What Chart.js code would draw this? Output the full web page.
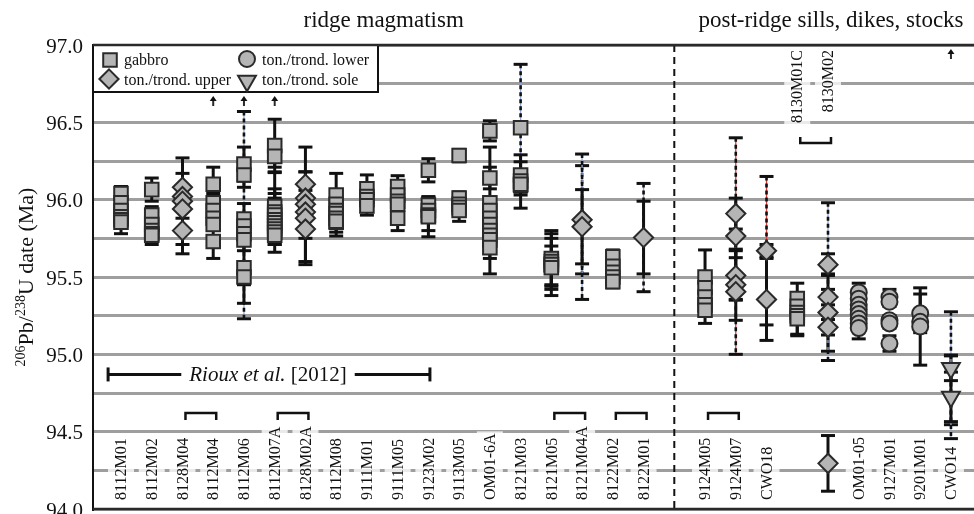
<!DOCTYPE html>
<html>
<head>
<meta charset="utf-8">
<script src="https://cdn.jsdelivr.net/npm/chart.js@4.4.1/dist/chart.umd.min.js"></script>
<style>
  html, body { margin: 0; padding: 0; background: #fff; }
  #wrap { width: 974px; height: 514px; }
</style>
</head>
<body>
<div id="wrap"><canvas id="chartDates" width="974" height="514"></canvas></div>
<script>
// sample names along the x axis (null = gap where the divider sits)
const samples = ['8112M01', '8112M02', '8128M04', '8112M04', '8112M06', '8112M07A', '8128M02A',
    '8112M08', '9111M01', '9111M05', '9123M02', '9113M05', 'OM01-6A', '8121M03', '8121M05',
    '8121M04A', '8122M02', '8122M01', null, '9124M05', '9124M07', 'CWO18', '8130M01C', '8130M02',
    'OM01-05', '9127M01', '9201M01', 'CWO14'];
const topLabelCols = [22, 23];
const bracketPairs = [[2, 3], [5, 6], [14, 15], [16, 17], [19, 20]];
const topBracketPairs = [[22, 23]];
const offScaleCols = [3, 4, 5, 27];
const redDashCols = [20, 21];
const dividerCol = 18;
const riouxRange = [-0.42, 10.05, 94.87];
const yTickLabels = [94.0, 94.5, 95.0, 95.5, 96.0, 96.5, 97.0];
const groupTitles = ['ridge magmatism', 'post-ridge sills, dikes, stocks'];

// [column, date (Ma), solid 2s error, dashed 2s error]
const gabbro = [
    [0, 96.04, 0.045], [0, 95.98, 0.03], [0, 95.93, 0.03], [0, 95.89, 0.03], [0, 95.87, 0.03], [0, 95.855, 0.075],
    [1, 96.065, 0.075], [1, 95.90, 0.055], [1, 95.84, 0.03], [1, 95.80, 0.03], [1, 95.78, 0.03], [1, 95.77, 0.06],
    [3, 96.10, 0.11], [3, 95.98, 0.06], [3, 95.93, 0.03], [3, 95.88, 0.03], [3, 95.84, 0.03], [3, 95.73, 0.11],
    [4, 96.23, 0.11, 0.34], [4, 96.16, 0.08], [4, 95.875, 0.1], [4, 95.83, 0.03], [4, 95.78, 0.03], [4, 95.74, 0.07],
    [4, 95.56, 0.23, 0.33], [4, 95.50, 0.05],
    [5, 96.35, 0.17], [5, 96.28, 0.07], [5, 95.955, 0.22], [5, 95.92, 0.15], [5, 95.90, 0.14], [5, 95.87, 0.14],
    [5, 95.85, 0.03], [5, 95.83, 0.03], [5, 95.81, 0.1], [5, 95.79, 0.08], [5, 95.77, 0.11],
    [7, 96.03, 0.14], [7, 95.97, 0.03], [7, 95.93, 0.03], [7, 95.91, 0.03], [7, 95.88, 0.03], [7, 95.855, 0.09], [7, 95.86, 0.07],
    [8, 96.07, 0.09], [8, 96.02, 0.03], [8, 96.00, 0.03], [8, 95.96, 0.06],
    [9, 96.085, 0.07], [9, 96.03, 0.03], [9, 95.99, 0.03], [9, 95.97, 0.03], [9, 95.88, 0.08],
    [10, 96.19, 0.075], [10, 95.965, 0.05], [10, 95.93, 0.03], [10, 95.90, 0.1], [10, 95.89, 0.13],
    [11, 96.285, 0.04], [11, 96.01, 0.04], [11, 95.97, 0.03], [11, 95.95, 0.03], [11, 95.93, 0.07],
    [12, 96.445, 0.065], [12, 96.14, 0.07], [12, 95.98, 0.36], [12, 95.93, 0.03], [12, 95.88, 0.03], [12, 95.84, 0.03],
    [12, 95.80, 0.03], [12, 95.77, 0.03], [12, 95.74, 0.03], [12, 95.69, 0.17],
    [13, 96.465, 0.03, 0.41], [13, 96.16, 0.13], [13, 96.12, 0.07], [13, 96.095, 0.15], [13, 96.10, 0.05],
    [14, 95.62, 0.18], [14, 95.60, 0.15], [14, 95.58, 0.2], [14, 95.58, 0.03], [14, 95.56, 0.14],
    [16, 95.63, 0.045], [16, 95.57, 0.03], [16, 95.53, 0.03], [16, 95.50, 0.03], [16, 95.47, 0.04],
    [19, 95.50, 0.175], [19, 95.43, 0.03], [19, 95.37, 0.03], [19, 95.32, 0.03], [19, 95.285, 0.085],
    [22, 95.36, 0.1], [22, 95.31, 0.03], [22, 95.27, 0.03], [22, 95.25, 0.13], [22, 95.23, 0.1]
];
const tonUpper = [
    [2, 96.08, 0.09], [2, 96.02, 0.05], [2, 95.99, 0.28], [2, 95.94, 0.06], [2, 95.80, 0.15],
    [6, 96.10, 0.08], [6, 96.01, 0.05], [6, 95.97, 0.37], [6, 95.92, 0.05], [6, 95.88, 0.3], [6, 95.81, 0.06],
    [15, 95.87, 0, 0.35], [15, 95.825, 0.24, 0.47],
    [17, 95.755, 0.235, 0.35],
    [20, 95.91, 0.10, 0.49], [20, 95.765, 0.14], [20, 95.51, 0.16], [20, 95.45, 0.23, 0.45], [20, 95.405, 0.05],
    [21, 95.67, 0.04, 0.48], [21, 95.355, 0.265],
    [23, 95.58, 0.07, 0.4], [23, 95.37, 0.05], [23, 95.27, 0.25], [23, 95.175, 0.05, 0.215], [23, 94.295, 0.18]
];
const tonLower = [
    [24, 95.40, 0.06], [24, 95.36, 0.03], [24, 95.32, 0.03], [24, 95.29, 0.03], [24, 95.26, 0.03],
    [24, 95.23, 0.03], [24, 95.20, 0.03], [24, 95.17, 0.07],
    [25, 95.37, 0.05], [25, 95.34, 0.03], [25, 95.22, 0.03], [25, 95.20, 0.03], [25, 95.07, 0.05],
    [26, 95.265, 0.125], [26, 95.21, 0.03], [26, 95.18, 0.25]
];
const tonSole = [
    [27, 94.91, 0.08, 0.365], [27, 94.725, 0.16, 0.27]
];

const serif = "'Liberation Serif', 'Times New Roman', serif";
const markFill = '#b5b5b5';
const markLine = '#2a2a2a';
const toPoints = list => list.map(d => ({x: d[0], y: d[1]}));

function markerPath(ctx, style, x, y, r) {
    ctx.beginPath();
    if (style === 'rect') {
        const s = r * Math.SQRT1_2;
        ctx.rect(x - s, y - s, 2 * s, 2 * s);
    } else if (style === 'rectRot') {
        ctx.moveTo(x - r, y); ctx.lineTo(x, y - r); ctx.lineTo(x + r, y); ctx.lineTo(x, y + r);
        ctx.closePath();
    } else if (style === 'circle') {
        ctx.arc(x, y, r, 0, Math.PI * 2);
    } else {
        ctx.moveTo(x, y + r);
        ctx.lineTo(x - r * 0.866, y - r / 2);
        ctx.lineTo(x + r * 0.866, y - r / 2);
        ctx.closePath();
    }
    ctx.fillStyle = markFill;
    ctx.fill();
    ctx.lineWidth = 2;
    ctx.strokeStyle = markLine;
    ctx.stroke();
}

function hLine(ctx, x1, x2, y) {
    ctx.beginPath(); ctx.moveTo(x1, y); ctx.lineTo(x2, y); ctx.stroke();
}
function vLine(ctx, x, y1, y2) {
    ctx.beginPath(); ctx.moveTo(x, y1); ctx.lineTo(x, y2); ctx.stroke();
}

const figurePlugin = {
    id: 'figure',
    beforeDatasetsDraw(chart) {
        const {ctx, chartArea: area, scales: {x, y}} = chart;
        ctx.save();

        // sample labels with pale backgrounds
        ctx.font = '16px ' + serif;
        ctx.textBaseline = 'middle';
        samples.forEach((name, i) => {
            if (!name) return;
            const px = x.getPixelForValue(i);
            const top = topLabelCols.includes(i);
            const w = ctx.measureText(name).width;
            ctx.save();
            ctx.translate(px, top ? 50 : 500);
            ctx.rotate(-Math.PI / 2);
            ctx.fillStyle = 'rgba(255,255,255,0.78)';
            if (top) ctx.fillRect(-w - 2, -13, w + 4, 26);
            else ctx.fillRect(-2, -13, w + 4, 26);
            ctx.fillStyle = '#111';
            ctx.textAlign = top ? 'right' : 'left';
            ctx.fillText(name, 0, 1);
            ctx.restore();
        });

        // brackets joining paired samples
        ctx.strokeStyle = '#111';
        ctx.lineWidth = 2.5;
        bracketPairs.forEach(([a, b]) => {
            const x1 = x.getPixelForValue(a) + 3, x2 = x.getPixelForValue(b) + 3;
            ctx.beginPath();
            ctx.moveTo(x1, 420); ctx.lineTo(x1, 413); ctx.lineTo(x2, 413); ctx.lineTo(x2, 420);
            ctx.stroke();
        });
        topBracketPairs.forEach(([a, b]) => {
            const x1 = x.getPixelForValue(a) + 3, x2 = x.getPixelForValue(b) + 3;
            ctx.beginPath();
            ctx.moveTo(x1, 137); ctx.lineTo(x1, 143); ctx.lineTo(x2, 143); ctx.lineTo(x2, 137);
            ctx.stroke();
        });

        // Rioux et al. [2012] span
        const rx1 = x.getPixelForValue(riouxRange[0]);
        const rx2 = x.getPixelForValue(riouxRange[1]);
        const ry = y.getPixelForValue(riouxRange[2]);
        const it = 'Rioux et al.', rg = ' [2012]';
        ctx.font = 'italic 21px ' + serif;
        const wi = ctx.measureText(it).width;
        ctx.font = '21px ' + serif;
        const wr = ctx.measureText(rg).width;
        const tc = (rx1 + rx2) / 2 - 1;
        const t0 = tc - (wi + wr) / 2;
        ctx.lineWidth = 3;
        hLine(ctx, rx1, t0 - 8, ry);
        hLine(ctx, t0 + wi + wr + 8, rx2, ry);
        vLine(ctx, rx1, ry - 7, ry + 7);
        vLine(ctx, rx2, ry - 7, ry + 7);
        ctx.fillStyle = '#111';
        ctx.textAlign = 'left';
        ctx.textBaseline = 'middle';
        ctx.font = 'italic 21px ' + serif;
        ctx.fillText(it, t0, ry + 1);
        ctx.font = '21px ' + serif;
        ctx.fillText(rg, t0 + wi, ry + 1);

        // divider between the two groups
        const dx = x.getPixelForValue(dividerCol);
        ctx.lineWidth = 2;
        ctx.setLineDash([7, 5]);
        vLine(ctx, dx, area.top, area.bottom);
        ctx.setLineDash([]);

        // error bars
        ctx.beginPath();
        ctx.rect(area.left, area.top, area.right - area.left, area.bottom - area.top);
        ctx.clip();
        [gabbro, tonUpper, tonLower, tonSole].forEach(list => list.forEach(([col, v, e, e2]) => {
            const px = x.getPixelForValue(col);
            if (e2 && e2 > e) {
                const t = y.getPixelForValue(v + e2), b = y.getPixelForValue(v - e2);
                ctx.strokeStyle = redDashCols.includes(col) ? '#e23a3a' : '#8fa9dc';
                ctx.lineWidth = 1.3;
                vLine(ctx, px, t, b);
                ctx.strokeStyle = '#111';
                ctx.lineWidth = 2.6;
                ctx.setLineDash([4, 3]);
                vLine(ctx, px, t, b);
                ctx.setLineDash([]);
                ctx.lineWidth = 3;
                hLine(ctx, px - 7, px + 7, t);
                hLine(ctx, px - 7, px + 7, b);
            }
            if (e > 0) {
                const t = y.getPixelForValue(v + e), b = y.getPixelForValue(v - e);
                ctx.strokeStyle = '#111';
                ctx.lineWidth = 3;
                vLine(ctx, px, t, b);
                hLine(ctx, px - 7, px + 7, t);
                hLine(ctx, px - 7, px + 7, b);
            }
        }));
        ctx.restore();
    },
    afterDatasetsDraw(chart) {
        const {ctx, chartArea: area, scales: {x, y}} = chart;
        ctx.save();

        // legend box
        ctx.fillStyle = '#fff';
        ctx.fillRect(area.left, area.top, 285, 47);
        ctx.strokeStyle = '#111';
        ctx.lineWidth = 2;
        ctx.strokeRect(area.left, area.top, 285, 47);
        markerPath(ctx, 'rect', 110, 60, 9.6);
        markerPath(ctx, 'rectRot', 109, 79, 9.6);
        markerPath(ctx, 'circle', 247, 59, 8);
        markerPath(ctx, 'triangle', 247, 81, 10.3);
        ctx.fillStyle = '#111';
        ctx.font = '16px ' + serif;
        ctx.textBaseline = 'alphabetic';
        ctx.textAlign = 'left';
        chart.data.datasets.forEach((ds, i) => {
            const lx = i < 2 ? 124 : 262;
            const ly = i % 2 === 0 ? 64.5 : 84.5;
            ctx.fillText(ds.label, lx, ly);
        });

        // plot frame top and bottom
        ctx.lineWidth = 2.5;
        hLine(ctx, area.left, area.right, area.top);
        hLine(ctx, area.left, area.right, area.bottom);

        // arrows for grains off the top of the scale
        ctx.fillStyle = '#111';
        ctx.lineWidth = 2;
        offScaleCols.forEach(col => {
            const px = x.getPixelForValue(col);
            const ay = px < area.left + 290 ? 96 : 49;
            vLine(ctx, px, ay + 3, ay + 10);
            ctx.beginPath();
            ctx.moveTo(px, ay); ctx.lineTo(px - 3.5, ay + 5); ctx.lineTo(px + 3.5, ay + 5);
            ctx.closePath(); ctx.fill();
        });

        // y tick labels
        ctx.font = '21px ' + serif;
        ctx.textAlign = 'right';
        ctx.textBaseline = 'middle';
        yTickLabels.forEach(v => {
            ctx.fillText(v.toFixed(1), area.left - 10, y.getPixelForValue(v) + 2);
        });

        // group titles
        ctx.font = '23px ' + serif;
        ctx.textAlign = 'center';
        ctx.textBaseline = 'alphabetic';
        ctx.fillText(groupTitles[0], (area.left + x.getPixelForValue(dividerCol)) / 2, 27);
        ctx.fillText(groupTitles[1], 831, 27);

        // y axis title with superscripts
        const parts = [['206', true], ['Pb/', false], ['238', true], ['U date (Ma)', false]];
        let total = 0;
        parts.forEach(([t, sup]) => {
            ctx.font = (sup ? '14px ' : '22px ') + serif;
            total += ctx.measureText(t).width;
        });
        ctx.translate(33, 277);
        ctx.rotate(-Math.PI / 2);
        ctx.textAlign = 'left';
        let cx = -total / 2;
        parts.forEach(([t, sup]) => {
            ctx.font = (sup ? '14px ' : '22px ') + serif;
            ctx.fillText(t, cx, sup ? -8 : 0);
            cx += ctx.measureText(t).width;
        });
        ctx.restore();
    }
};

const pointBase = {
    backgroundColor: markFill,
    borderColor: markLine,
    borderWidth: 2,
    showLine: false
};

const chartDates = new Chart(document.getElementById('chartDates'), {
    type: 'scatter',
    data: {
        datasets: [
            {...pointBase, label: 'gabbro', data: toPoints(gabbro), pointStyle: 'rect', pointRadius: 9.6},
            {...pointBase, label: 'ton./trond. upper', data: toPoints(tonUpper), pointStyle: 'rectRot', pointRadius: 9.6},
            {...pointBase, label: 'ton./trond. lower', data: toPoints(tonLower), pointStyle: 'circle', pointRadius: 8},
            {...pointBase, label: 'ton./trond. sole', data: toPoints(tonSole), pointStyle: 'triangle', pointRadius: 10.3, pointRotation: 180}
        ]
    },
    options: {
        responsive: false,
        animation: false,
        devicePixelRatio: 1,
        layout: {autoPadding: false, padding: {top: 45, right: 0, bottom: 5, left: 0}},
        plugins: {legend: {display: false}, tooltip: {enabled: false}},
        scales: {
            x: {
                type: 'linear',
                min: -0.911,
                max: 27.75,
                display: false
            },
            y: {
                min: 94,
                max: 97,
                afterFit(scale) {
                    scale.width = 93;
                },
                ticks: {stepSize: 0.25, display: false},
                grid: {color: '#9e9e9e', lineWidth: 3, drawTicks: false},
                border: {display: true, color: '#111', width: 2}
            }
        }
    },
    plugins: [figurePlugin]
});
</script>
</body>
</html>
